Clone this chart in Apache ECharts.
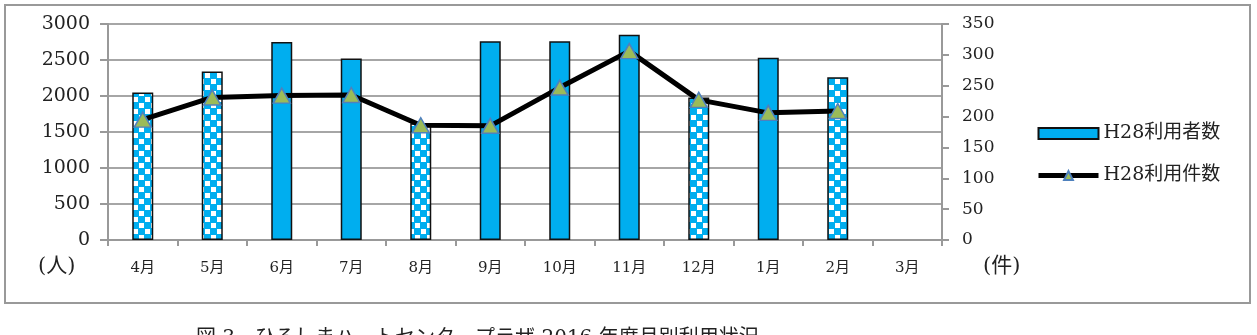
<!DOCTYPE html>
<html>
<head>
<meta charset="utf-8">
<script src="https://cdn.jsdelivr.net/npm/echarts@6.0.0/dist/echarts.min.js"></script>
<style>
  html, body { margin: 0; padding: 0; background: #fff; }
  #chart { width: 1257px; height: 335px; }
</style>
</head>
<body>
<div id="chart"></div>
<script>
const months = ['4月', '5月', '6月', '7月', '8月', '9月', '10月', '11月', '12月', '1月', '2月', '3月'];
const users = [2050, 2340, 2750, 2520, 1620, 2760, 2760, 2850, 1980, 2530, 2260, null];
const cases = [195, 231, 234, 235, 186, 185, 247, 306, 227, 206, 209, null];
// months drawn with the checkered fill
const patterned = ['4月', '5月', '8月', '12月', '2月'];
const leftTicks = { min: 0, max: 3000, interval: 500 };
const rightTicks = { min: 0, max: 350, interval: 50 };

const blue = '#00AEEF';
const serif = '"DejaVu Serif", "Liberation Serif", "Noto Sans CJK JP", serif';

function makeChecker() {
  const c = document.createElement('canvas');
  c.width = 12; c.height = 12;
  const ctx = c.getContext('2d');
  ctx.fillStyle = blue;
  ctx.fillRect(0, 0, 12, 12);
  ctx.fillStyle = '#fff';
  ctx.fillRect(1, 1, 5, 5);
  ctx.fillRect(7, 7, 5, 5);
  return c;
}
const checker = makeChecker();

const chart = echarts.init(document.getElementById('chart'));

chart.setOption({
  animation: false,
  grid: { left: 108, right: 315, top: 24, bottom: 95 },
  legend: {
    orient: 'vertical',
    left: 1031,
    top: 119,
    itemWidth: 60,
    itemHeight: 11,
    itemGap: 23,
    textStyle: { fontSize: 19, color: '#222', fontFamily: serif },
    lineStyle: { width: 5 },
    data: [{ name: 'H28利用者数', icon: 'rect' }, { name: 'H28利用件数' }]
  },
  xAxis: {
    type: 'category',
    data: months,
    axisLine: { lineStyle: { color: '#999', width: 2 } },
    axisTick: { show: true, length: 6, lineStyle: { color: '#999', width: 2 } },
    axisLabel: { fontSize: 15, color: '#222', margin: 21, fontFamily: serif }
  },
  yAxis: [
    {
      type: 'value',
      min: leftTicks.min, max: leftTicks.max, interval: leftTicks.interval,
      axisLine: { show: true, lineStyle: { color: '#999', width: 2 } },
      axisTick: { show: true, length: 8, lineStyle: { color: '#999', width: 2 } },
      axisLabel: { fontSize: 19, color: '#222', margin: 18, fontFamily: serif, formatter: v => String(v) },
      splitLine: { lineStyle: { color: '#a6a6a6', width: 2 } }
    },
    {
      type: 'value',
      position: 'right',
      min: rightTicks.min, max: rightTicks.max, interval: rightTicks.interval,
      axisLine: { show: true, lineStyle: { color: '#999', width: 2 } },
      axisTick: { show: true, length: 7, lineStyle: { color: '#999', width: 2 } },
      axisLabel: { fontSize: 17, color: '#222', margin: 20, fontFamily: serif, formatter: v => String(v) },
      splitLine: { show: false }
    }
  ],
  series: [
    {
      name: 'H28利用者数',
      type: 'bar',
      barWidth: 21,
      itemStyle: { color: blue, borderColor: '#111', borderWidth: 1.5 },
      data: users.map((v, i) => patterned.includes(months[i])
        ? { value: v, itemStyle: { color: { image: checker, repeat: 'repeat' } } }
        : v)
    },
    {
      name: 'H28利用件数',
      type: 'line',
      yAxisIndex: 1,
      z: 5,
      symbol: 'triangle',
      symbolSize: [17, 15],
      lineStyle: { color: '#000', width: 5 },
      itemStyle: { color: '#9BBB59', borderColor: '#4F81BD', borderWidth: 1.5 },
      data: cases
    }
  ],
  graphic: [
    {
      type: 'rect',
      shape: { x: 5, y: 5, width: 1245, height: 298 },
      style: { fill: 'none', stroke: '#999', lineWidth: 2 },
      silent: true
    },
    {
      type: 'text', x: 38, y: 256,
      style: { text: '(人)', fontSize: 21, fill: '#222', fontFamily: serif }
    },
    {
      type: 'text', x: 983, y: 256,
      style: { text: '(件)', fontSize: 21, fill: '#222', fontFamily: serif }
    },
    {
      type: 'text', x: 196, y: 329,
      style: {
        text: '図 3　ひろしまハートセンタープラザ 2016 年度月別利用状況',
        fontSize: 20, fill: '#222', fontFamily: serif
      }
    }
  ]
});
</script>
</body>
</html>
